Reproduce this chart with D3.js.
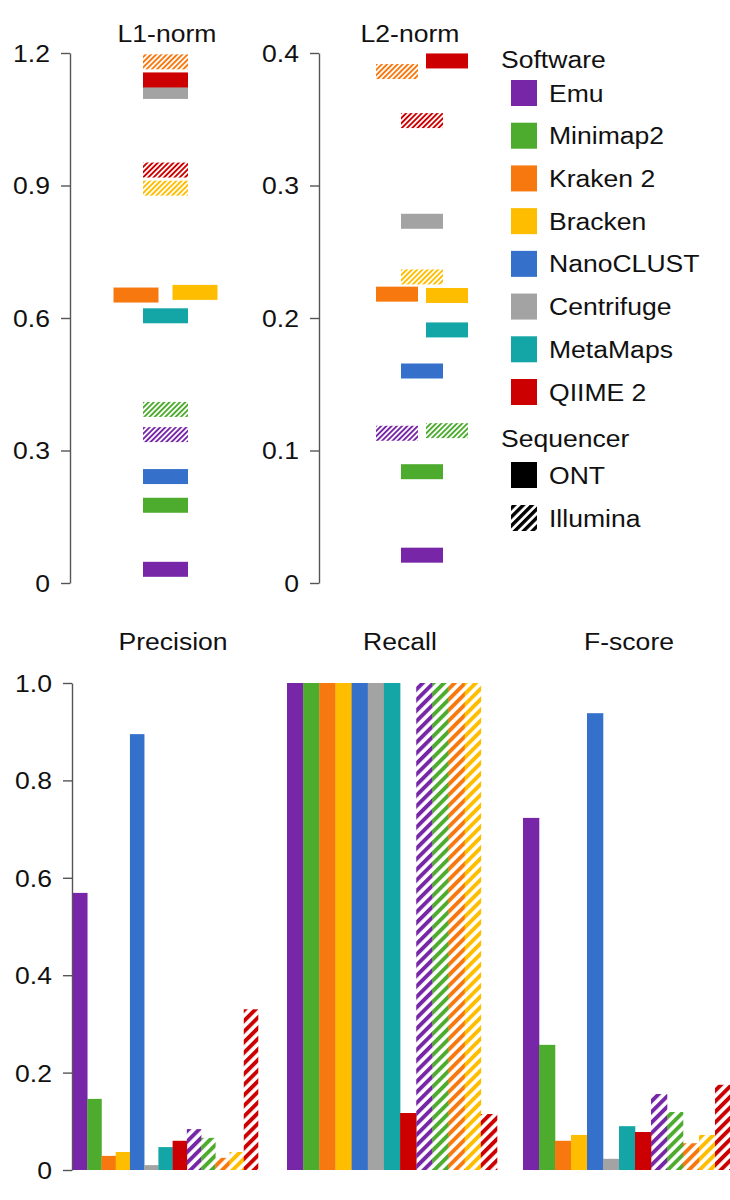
<!DOCTYPE html>
<html>
<head>
<meta charset="utf-8">
<script src="https://cdn.jsdelivr.net/npm/d3@7"></script>
<style>
  html, body { margin: 0; padding: 0; background: #fff; }
  svg { display: block; }
  text { font-family: "Liberation Sans", Arial, Helvetica, sans-serif; fill: #111; }
</style>
</head>
<body>
<div id="chart"></div>
<script>
// ---------------- DATA ----------------
const software = ["Emu", "Minimap2", "Kraken 2", "Bracken", "NanoCLUST", "Centrifuge", "MetaMaps", "QIIME 2"];
const colors = ["#7726a8", "#4dab2e", "#f7780f", "#ffbd00", "#3571cb", "#a3a3a3", "#14a6a6", "#cc0000"];
const sequencers = ["ONT", "Illumina"];

// L1-norm (null = not run on that sequencer)
const l1ONT      = [0.031, 0.176, 0.652, 0.658, 0.241, 1.113, 0.605, 1.139];
const l1Illumina = [0.336, 0.393, 1.180, 0.894, null, null, null, 0.935];
// dodge slot of each marker (-1 left, 0 centre, 1 right)
const l1ONTDodge      = [0, 0, -1, 1, 0, 0, 0, 0];
const l1IlluminaDodge = [0, 0, 0, 0, 0, 0, 0, 0];

// L2-norm
const l2ONT      = [0.021, 0.084, 0.218, 0.217, 0.160, 0.273, 0.191, 0.394];
const l2Illumina = [0.113, 0.115, 0.386, 0.231, null, null, null, 0.349];
const l2ONTDodge      = [0, 0, -1, 1, 0, 0, 1, 1];
const l2IlluminaDodge = [-1, 1, -1, 0, 0, 0, 0, 0];

// Precision / Recall / F-score
const precisionONT      = [0.569, 0.146, 0.029, 0.037, 0.895, 0.010, 0.047, 0.060];
const precisionIllumina = [0.084, 0.066, 0.025, 0.037, null, null, null, 0.330];
const recallONT         = [1.000, 1.000, 1.000, 1.000, 1.000, 1.000, 1.000, 0.117];
const recallIllumina    = [1.000, 1.000, 1.000, 1.000, null, null, null, 0.115];
const fscoreONT         = [0.723, 0.257, 0.060, 0.072, 0.938, 0.023, 0.090, 0.078];
const fscoreIllumina    = [0.156, 0.119, 0.055, 0.072, null, null, null, 0.175];

const l1Ticks  = [0, 0.3, 0.6, 0.9, 1.2];
const l2Ticks  = [0, 0.1, 0.2, 0.3, 0.4];
const barTicks = [0, 0.2, 0.4, 0.6, 0.8, 1.0];

// ---------------- CHART ----------------
const W = 730, H = 1200;
const FS = 23.5;      // font size
const SX = 1.13;      // horizontal text stretch
const AXIS_COL = "#555";

const svg = d3.select("#chart").append("svg").attr("width", W).attr("height", H);
const defs = svg.append("defs");

function makeHatch(id, color, period, stroke) {
  const p = defs.append("pattern")
    .attr("id", id)
    .attr("patternUnits", "userSpaceOnUse")
    .attr("width", period).attr("height", period)
    .attr("patternTransform", "rotate(45)");
  p.append("rect").attr("x", 0).attr("y", 0)
    .attr("width", stroke).attr("height", period)
    .attr("fill", color);
}
colors.forEach((c, i) => {
  makeHatch("hs" + i, c, 3.7, 1.9);   // small hatch (strip plots)
  makeHatch("hb" + i, c, 7.5, 3.9);   // big hatch (bar charts)
});
makeHatch("hlegend", "#000", 6.2, 3.4);

function txt(g, x, y, s, anchor, size) {
  return g.append("text")
    .attr("transform", `translate(${x},${y}) scale(${SX},1)`)
    .attr("text-anchor", anchor || "start")
    .attr("font-size", size || FS)
    .text(s);
}

function drawAxis(x, yScale, ticks) {
  const g = svg.append("g").attr("transform", `translate(${x},0)`);
  g.call(d3.axisLeft(yScale).tickValues(ticks).tickSize(9).tickSizeOuter(0)
    .tickFormat(d => d === 0 ? "0" : d3.format(".1f")(d)));
  g.select(".domain").attr("stroke", AXIS_COL).attr("stroke-width", 1.4);
  g.selectAll(".tick line").attr("stroke", AXIS_COL).attr("stroke-width", 1.4);
  g.selectAll(".tick text")
    .attr("x", null).attr("dy", "0.36em")
    .attr("transform", `translate(-20,0) scale(${SX},1)`)
    .attr("font-size", FS)
    .attr("font-family", "\"Liberation Sans\", Arial, Helvetica, sans-serif")
    .attr("fill", "#111");
  return g;
}

// ---- top strip panels ----
const topY = d3.scaleLinear().range([583, 53]);
const topPanels = [
  { title: "L1-norm", titleX: 167, axisX: 70, domain: [0, 1.2], ticks: l1Ticks,
    center: 165.5, gap: 29.5, markW: 45,
    ont: l1ONT, ill: l1Illumina, ontDodge: l1ONTDodge, illDodge: l1IlluminaDodge },
  { title: "L2-norm", titleX: 410, axisX: 319, domain: [0, 0.4], ticks: l2Ticks,
    center: 422, gap: 25, markW: 42,
    ont: l2ONT, ill: l2Illumina, ontDodge: l2ONTDodge, illDodge: l2IlluminaDodge }
];
const MARK_H = 15;

topPanels.forEach(p => {
  const y = topY.copy().domain(p.domain);
  const x = d3.scaleLinear().domain([-1, 1]).range([p.center - p.gap, p.center + p.gap]);
  drawAxis(p.axisX, y, p.ticks);
  txt(svg, p.titleX, 42, p.title, "middle");

  const marks = [];
  p.ont.forEach((v, i) => { if (v != null) marks.push({ v, i, dodge: p.ontDodge[i], seq: "ONT" }); });
  p.ill.forEach((v, i) => { if (v != null) marks.push({ v, i, dodge: p.illDodge[i], seq: "Illumina" }); });

  svg.append("g").selectAll("rect").data(marks).join("rect")
    .attr("x", d => x(d.dodge) - p.markW / 2)
    .attr("y", d => y(d.v) - MARK_H / 2)
    .attr("width", p.markW)
    .attr("height", MARK_H)
    .attr("fill", d => d.seq === "ONT" ? colors[d.i] : `url(#hs${d.i})`);
});

// ---- legend ----
const lg = svg.append("g");
txt(lg, 501, 68, "Software", "start");
const legY = d3.scaleLinear().domain([0, 7]).range([80, 379]);
software.forEach((s, i) => {
  lg.append("rect").attr("x", 511).attr("y", legY(i)).attr("width", 26).attr("height", 26).attr("fill", colors[i]);
  txt(lg, 549, legY(i) + 21.5, s, "start");
});
txt(lg, 501, 447, "Sequencer", "start");
const seqY = d3.scaleLinear().domain([0, 1]).range([462, 505]);
sequencers.forEach((s, i) => {
  lg.append("rect").attr("x", 511).attr("y", seqY(i)).attr("width", 26).attr("height", 26)
    .attr("fill", i === 0 ? "#000" : "url(#hlegend)");
  txt(lg, 549, seqY(i) + 21.5, s, "start");
});

// ---- bottom bar panels ----
const barY = d3.scaleLinear().domain([0, 1]).range([1170, 683]);
drawAxis(72, barY, barTicks);

const barPanels = [
  { title: "Precision", titleX: 173, x0: 73,  x1: 258, ont: precisionONT, ill: precisionIllumina },
  { title: "Recall",    titleX: 400, x0: 287, x1: 497, ont: recallONT,    ill: recallIllumina },
  { title: "F-score",   titleX: 629, x0: 523, x1: 731, ont: fscoreONT,    ill: fscoreIllumina }
];

barPanels.forEach(p => {
  txt(svg, p.titleX, 650, p.title, "middle");
  const bars = [];
  p.ont.forEach((v, i) => { if (v != null) bars.push({ key: "ONT-" + i, v, i, seq: "ONT" }); });
  p.ill.forEach((v, i) => { if (v != null) bars.push({ key: "ILL-" + i, v, i, seq: "Illumina" }); });
  const x = d3.scaleBand().domain(bars.map(d => d.key)).range([p.x0, p.x1]).padding(0);
  svg.append("g").selectAll("rect").data(bars).join("rect")
    .attr("x", d => x(d.key))
    .attr("width", x.bandwidth() + 0.3)
    .attr("y", d => barY(d.v))
    .attr("height", d => barY(0) - barY(d.v))
    .attr("fill", d => d.seq === "ONT" ? colors[d.i] : `url(#hb${d.i})`);
});
</script>
</body>
</html>
